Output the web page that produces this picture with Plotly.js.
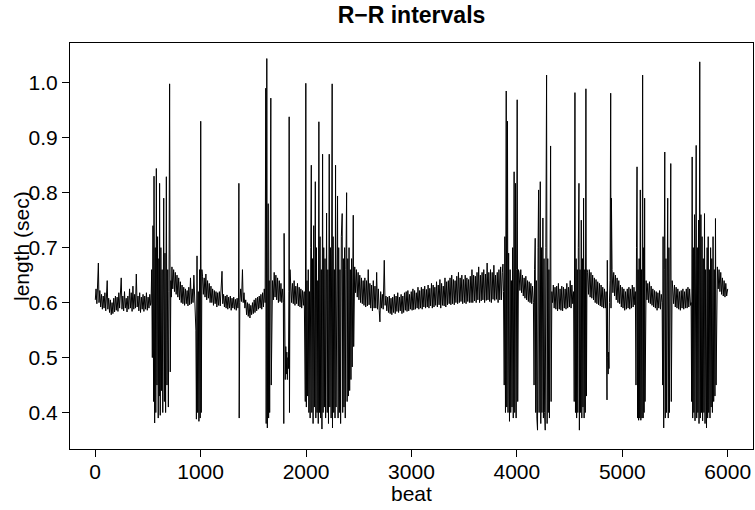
<!DOCTYPE html>
<html>
<head>
<meta charset="utf-8">
<script src="https://cdn.plot.ly/plotly-3.0.1.min.js"></script>
<style>
html,body{margin:0;padding:0;background:#fff;}
#chart{width:755px;height:510px;}
</style>
</head>
<body>
<div id="chart"></div>
<script>
// R-R interval series (envelope of the dense trace)
var beat = [
  // quiet 0-525
  1,8,16,24,30,36,44,52,60,68, 76,84,92,100,108,114,120,128,136,144, 152,160,168,176,184,192,200,208,216,224,
  232,240,247,254,262,270,278,286,294,302, 310,318,326,334,342,350,358,366,374,382, 390,398,406,414,422,430,438,446,454,462,
  470,478,486,494,502,510,518,525,
  // burst ~530-722
  530,536,542,548,554,558,564,570,575,580,586,592,598,604,608,611,617,623,629,635,641,650,656,662,668,675,681,688,694,700,706,712,718,722,
  // recovery 722-945
  728,736,744,752,760,768,776,784,792,800, 808,816,824,832,840,848,856,864,872,880, 888,896,904,912,920,928,936,942,
  // burst ~950-1010
  948,955,960,966,972,978,984,990,996,1001,1006,1012,
  // quiet 1012-1608
  1018,1026,1034,1042,1050,1058,1066,1074,1082,1090, 1098,1106,1114,1122,1130,1138,1146,1154,1162,1170,
  1178,1186,1194,1203,1210,1218,1226,1234,1242,1250, 1258,1266,1274,1282,1290,1298,1306,1314,1322,1330,
  1338,1346,1354,1360,1363,1366,1372,1380,1388,1397, 1404,1412,1420,1428,1436,1444,1452,1460,1468,1476,
  1484,1492,1500,1508,1516,1524,1532,1540,1548,1556, 1564,1572,1580,1588,1596,1604,
  // burst ~1610-1675
  1612,1618,1622,1628,1633,1638,1641,1645,1650,1655,1660,1666,1670,1675,
  // quiet
  1682,1690,1698,1706,1714,1722,1730,1738,1746,1754, 1762,1770,1778,
  // burst ~1785-1848
  1785,1789,1792,1797,1803,1808,1813,1818,1823,1828,1833,1838,1840,1843,1848,
  // quiet
  1855,1863,1871,1879,1887,1895,1903,1911,1919,1927, 1935,1943,1951,1959,1967,1975,1983,
  // burst ~1988-2456
  1988,1993,1998,2003,2009,2015,2021,2027,2033,2039, 2045,2050,2055,2061,2067,2073,2079,2084,2088,2093,
  2099,2105,2111,2116,2122,2127,2133,2139,2145,2151, 2157,2162,2168,2174,2180,2186,2191,2195,2201,2207,
  2213,2220,2226,2232,2238,2243,2248,2251,2257,2263, 2269,2275,2280,2285,2292,2299,2304,2310,2316,2322,
  2328,2335,2343,2348,2354,2360,2366,2372,2378,2385, 2390,2396,2402,2408,2414,2420,2426,2432,2438,2444,
  2448,2452,2456,
  // recovery 2456-2770
  2462,2470,2478,2486,2494,2502,2510,2518,2526,2534, 2542,2550,2558,2566,2574,2582,2590,2598,2606,2614,
  2622,2630,2638,2646,2654,2662,2670,2678,2686,2694, 2701,2708,2716,2724,2732,2742,2750,2758,2766,
  // long quiet 2770-3870
  2774,2782,2790,2798,2806,2814,2822,2830,2838,2846, 2854,2862,2870,2878,2886,2894,2902,2910,2918,2926,
  2934,2942,2950,2958,2966,2974,2982,2990,2998,3006, 3014,3022,3030,3038,3046,3054,3062,3070,3078,3086,
  3094,3102,3110,3118,3126,3134,3142,3150,3158,3166, 3174,3182,3190,3198,3206,3214,3222,3230,3238,3246,
  3254,3262,3270,3278,3286,3294,3302,3310,3318,3326, 3334,3342,3350,3358,3366,3374,3382,3390,3398,3406,
  3414,3422,3430,3438,3446,3454,3462,3470,3478,3486, 3494,3502,3510,3518,3526,3534,3542,3550,3558,3566,
  3574,3582,3590,3598,3606,3614,3622,3630,3638,3646, 3654,3662,3670,3678,3686,3694,3702,3710,3718,3726,
  3734,3742,3750,3758,3766,3774,3782,3790,3798,3806, 3814,3822,3830,3838,3846,3854,3862,3868,
  // burst ~3873-4015
  3873,3880,3886,3892,3899,3904,3911,3916,3922,3930,3936,3942,3948,3954,3960,3966,3974,3980,3987,3993,3998,4003,4008,4015,
  // recovery
  4021,4029,4037,4045,4053,4061,4069,4077,4085,4093, 4101,4109,4117,4125,4133,4141,4149,
  // burst ~4157-4332
  4157,4163,4168,4174,4179,4185,4190,4196,4201,4206,4211,4216,4222,4227,4233,4238,4243,4247,4252,4258,4263,4269,4275,4282,4287,4293,4298,4304,4309,4315,4320,4325,4332,
  // quiet
  4338,4346,4354,4362,4370,4378,4386,4394,4402,4410, 4418,4426,4434,4442,4450,4458,4466,4474,4482,4490, 4498,4506,4514,4522,4530,
  // burst ~4538-4665
  4538,4544,4551,4556,4562,4567,4573,4578,4583,4589,4593,4599,4605,4611,4616,4622,4627,4633,4638,4644,4649,4655,4660,4665,
  // recovery
  4671,4679,4687,4695,4703,4711,4719,4727,4735,4743, 4751,4759,4767,4775,4783,4791,4799,4807,4815,4823, 4831,4839,4847,
  // isolated beats ~4855-4897
  4855,4858,4862,4866,4870,4874,4878,4884,4890,4893,4897,
  // quiet
  4903,4911,4919,4927,4935,4943,4951,4959,4967,4975, 4983,4991,4999,5007,5015,5023,5031,5039,5047,5055, 5063,5071,5079,5087,5095,5103,5111,5119,
  // burst ~5124-5220
  5124,5130,5135,5140,5145,5150,5155,5160,5165,5171,5176,5182,5187,5193,5198,5203,5207,5212,5216,5220,
  // quiet
  5226,5234,5242,5250,5258,5266,5274,5282,5290,5298, 5306,5314,5322,5330,5338,5346,5354,5362,5370,
  // burst ~5378-5473
  5378,5383,5387,5393,5398,5403,5408,5414,5419,5425,5431,5436,5442,5447,5453,5460,5465,5473,
  // quiet
  5479,5487,5495,5503,5511,5519,5527,5535,5543,5551, 5559,5567,5575,5583,5591,5599,5607,5615,5623,5631, 5639,5647,
  // burst ~5653-5900
  5653,5658,5663,5668,5674,5679,5685,5690,5696,5701,5706,5712,5717,5723,5728,5735,5740,5746,5751,5757,5762,5768,5774,5780,5785,5791,5799,5805,5810,5815,5820,5826,5832,5838,5843,5849,5855,5861,5867,5873,5879,5884,5890,5896,
  // recovery to end
  5902,5910,5918,5926,5934,5942,5950,5958,5966,5974, 5982,5990,6000
];
var rr = [
  0.605,0.625,0.598,0.63,0.672,0.60,0.622,0.592,0.615,0.588, 0.612,0.59,0.618,0.585,0.61,0.64,0.588,0.608,0.582,0.605, 0.578,0.60,0.58,0.608,0.583,0.612,0.586,0.61,0.584,0.618,
  0.59,0.615,0.645,0.588,0.612,0.585,0.62,0.59,0.608,0.583, 0.612,0.588,0.625,0.59,0.618,0.584,0.63,0.588,0.615,0.59, 0.652,0.592,0.612,0.585,0.618,0.582,0.61,0.588,0.615,0.584,
  0.612,0.588,0.618,0.586,0.61,0.59,0.615,0.595,

  0.6,0.66,0.50,0.74,0.42,0.83,0.381,0.70,0.40,0.844,0.45,0.72,0.39,0.68,0.43,0.817,0.395,0.70,0.44,0.66,0.40,0.79,0.42,0.69,0.40,0.829,0.45,0.66,0.41,0.62,0.998,0.474,0.64,0.61,

  0.665,0.625,0.66,0.62,0.655,0.615,0.65,0.61,0.645,0.605, 0.638,0.60,0.632,0.598,0.628,0.595,0.625,0.598,0.622,0.594, 0.628,0.596,0.645,0.598,0.625,0.60,0.65,0.605,

  0.60,0.55,0.388,0.685,0.40,0.62,0.384,0.66,0.39,0.930,0.40,0.66,

  0.648,0.615,0.645,0.61,0.652,0.605,0.64,0.608,0.635,0.60, 0.63,0.60,0.625,0.595,0.622,0.598,0.62,0.592,0.618,0.595,
  0.62,0.594,0.618,0.657,0.598,0.615,0.592,0.612,0.59,0.614, 0.588,0.61,0.59,0.612,0.586,0.608,0.59,0.61,0.588,0.606,
  0.586,0.608,0.59,0.61,0.817,0.39,0.60,0.625,0.602,0.66, 0.60,0.618,0.59,0.605,0.578,0.60,0.575,0.598,0.572,0.595,
  0.578,0.60,0.58,0.605,0.582,0.608,0.585,0.61,0.588,0.612, 0.59,0.615,0.588,0.618,0.592,0.625,

  0.60,0.99,0.38,1.044,0.372,0.65,0.78,0.39,0.64,0.40,0.62,0.972,0.45,0.63,

  0.64,0.605,0.655,0.61,0.65,0.605,0.645,0.60,0.64,0.602, 0.635,0.60,0.625,

  0.60,0.38,0.726,0.50,0.46,0.52,0.47,0.51,0.46,0.50,0.48,0.62,0.938,0.40,0.66,

  0.64,0.60,0.635,0.598,0.64,0.595,0.63,0.598,0.635,0.594, 0.628,0.592,0.625,0.59,0.622,0.595,0.62,

  0.55,0.42,0.999,0.41,0.64,0.43,0.66,0.40,0.62,0.39, 0.70,0.85,0.40,0.68,0.38,0.74,0.41,0.66,0.82,0.39,
  0.70,0.40,0.64,0.38,0.929,0.40,0.72,0.39,0.66,0.37, 0.87,0.40,0.70,0.41,0.68,0.39,0.72,0.763,0.40,0.66,
  0.38,0.87,0.41,0.70,0.39,0.68,0.998,0.372,0.72,0.40, 0.66,0.39,0.85,0.41,0.68,0.794,0.39,0.70,0.40,0.66,
  0.38,0.72,0.762,0.40,0.68,0.41,0.70,0.39,0.66,0.80, 0.42,0.68,0.43,0.70,0.44,0.66,0.46,0.68,0.483,0.65,
  0.759,0.52,0.64,

  0.665,0.618,0.66,0.61,0.655,0.605,0.65,0.60,0.645,0.598, 0.64,0.595,0.645,0.592,0.64,0.594,0.66,0.596,0.635,0.59,
  0.632,0.585,0.64,0.59,0.63,0.59,0.655,0.588,0.625,0.586, 0.565,0.62,0.59,0.615,0.588,0.677,0.595,0.612,0.585,

  0.61,0.582,0.612,0.58,0.608,0.578,0.61,0.582,0.615,0.58, 0.612,0.584,0.618,0.582,0.61,0.585,0.615,0.58,0.612,0.582,
  0.618,0.586,0.62,0.584,0.622,0.585,0.615,0.588,0.62,0.586, 0.625,0.587,0.622,0.588,0.618,0.59,0.628,0.588,0.622,0.59,
  0.628,0.588,0.625,0.592,0.63,0.59,0.624,0.592,0.632,0.59, 0.626,0.594,0.635,0.59,0.632,0.592,0.628,0.595,0.638,0.592,
  0.632,0.596,0.642,0.59,0.635,0.595,0.63,0.594,0.645,0.592, 0.638,0.596,0.64,0.598,0.645,0.596,0.65,0.598,0.642,0.596,
  0.64,0.60,0.648,0.598,0.655,0.60,0.645,0.602,0.65,0.598, 0.642,0.60,0.65,0.598,0.645,0.602,0.642,0.60,0.648,0.60,
  0.66,0.60,0.65,0.603,0.648,0.60,0.655,0.605,0.665,0.60, 0.65,0.603,0.655,0.605,0.66,0.60,0.652,0.604,0.672,0.605,
  0.655,0.602,0.66,0.60,0.655,0.606,0.668,0.604,0.65,0.606, 0.655,0.60,0.66,0.605,0.665,0.605,0.655,0.67,

  0.62,0.45,0.72,0.40,0.985,0.41,0.93,0.40,0.69,0.384,0.66,0.40,0.64,0.41,0.70,0.39,0.838,0.40,0.817,0.39,0.66,0.969,0.42,0.66,

  0.655,0.622,0.66,0.618,0.65,0.612,0.645,0.608,0.648,0.605, 0.64,0.602,0.638,0.60,0.635,0.598,0.63,

  0.60,0.45,0.66,0.717,0.40,0.64,0.39,0.368,0.70,0.805,0.40,0.66,0.82,0.38,0.70,0.40,0.66,0.754,0.39,0.68,0.40,0.368,0.70,1.014,0.38,0.68,0.40,0.66,0.39,0.70,0.885,0.42,0.62,

  0.60,0.632,0.59,0.628,0.588,0.63,0.585,0.635,0.588,0.625, 0.586,0.63,0.585,0.628,0.59,0.625,0.588,0.635,0.59,0.628, 0.592,0.64,0.59,0.632,0.598,

  0.62,0.42,0.982,0.40,0.68,0.39,0.66,0.40,0.70,0.817,0.368,0.66,0.40,0.75,0.39,0.68,0.41,0.79,0.39,0.66,0.40,0.989,0.43,0.66,

  0.655,0.615,0.66,0.61,0.655,0.608,0.65,0.605,0.645,0.60, 0.642,0.598,0.638,0.596,0.635,0.594,0.632,0.592,0.628,0.59, 0.625,0.59,0.62,

  0.423,0.677,0.50,0.47,0.51,0.48,0.60,0.64,0.981,0.59,0.79,

  0.66,0.618,0.655,0.612,0.65,0.605,0.645,0.60,0.64,0.598, 0.632,0.592,0.628,0.59,0.625,0.586,0.62,0.588,0.625,0.59, 0.628,0.588,0.625,0.59,0.632,0.592,0.628,0.596,

  0.62,0.45,0.70,0.847,0.39,0.66,0.386,0.68,0.39,0.805,0.386,0.66,0.39,1.014,0.39,0.70,0.40,0.79,0.42,0.64,

  0.64,0.605,0.635,0.60,0.638,0.598,0.63,0.595,0.625,0.592, 0.622,0.59,0.62,0.586,0.618,0.59,0.622,0.588,0.615,

  0.60,0.45,0.72,0.372,0.66,0.874,0.39,0.68,0.40,0.66,0.79,0.39,0.70,0.40,0.66,0.853,0.42,0.64,

  0.625,0.598,0.632,0.592,0.628,0.59,0.625,0.588,0.62,0.586, 0.622,0.59,0.625,0.588,0.62,0.59,0.625,0.59,0.628,0.592, 0.625,0.595,

  0.60,0.42,0.865,0.39,0.70,0.40,0.76,0.385,0.68,0.886,0.39,0.70,0.40,0.75,0.38,1.038,0.39,0.76,0.40,0.72,0.385,0.68,0.40,0.762,0.38,0.66,0.372,0.70,0.39,0.72,0.40,0.66,0.39,0.70,0.41,0.68,0.40,0.72,0.42,0.66,0.43,0.753,0.45,0.66,

  0.665,0.625,0.66,0.62,0.655,0.615,0.645,0.612,0.64,0.61, 0.635,0.612,0.625
];
var xTicks = [0, 1000, 2000, 3000, 4000, 5000, 6000];
var yTicks = [0.4, 0.5, 0.6, 0.7, 0.8, 0.9, 1.0];
var yTickText = ["0.4", "0.5", "0.6", "0.7", "0.8", "0.9", "1.0"];

if (beat.length !== rr.length) { throw new Error("length mismatch " + beat.length + " vs " + rr.length); }

var FONT = "Liberation Sans, Arial, Helvetica, sans-serif";

var trace = {
  x: beat, y: rr, type: "scatter", mode: "lines",
  line: {color: "#000000", width: 1},
  hoverinfo: "skip"
};

var layout = {
  width: 755, height: 510,
  paper_bgcolor: "#ffffff", plot_bgcolor: "#ffffff",
  margin: {l: 70, r: 2, t: 43, b: 61, pad: 0},
  showlegend: false,
  font: {family: FONT, size: 21, color: "#000000"},
  title: {
    text: "<b>R\u2212R intervals</b>",
    font: {family: FONT, size: 23, color: "#000000"},
    x: 0.5, xref: "paper", xanchor: "center",
    y: 1 - 15/510, yref: "container", yanchor: "middle"
  },
  xaxis: {
    range: [-239, 6240], tickmode: "array", tickvals: xTicks,
    ticks: "outside", ticklen: 7, tickwidth: 1, tickcolor: "#000",
    ticklabelstandoff: -3,
    showline: true, mirror: true, linecolor: "#000", linewidth: 1,
    showgrid: false, zeroline: false,
    tickfont: {family: FONT, size: 21, color: "#000"}
  },
  yaxis: {
    range: [0.3337, 1.0723], tickmode: "array", tickvals: yTicks, ticktext: yTickText,
    ticks: "outside", ticklen: 7, tickwidth: 1, tickcolor: "#000",
    showline: true, mirror: true, linecolor: "#000", linewidth: 1,
    showgrid: false, zeroline: false,
    tickfont: {family: FONT, size: 21, color: "#000"}
  },
  annotations: [{
    text: "length (sec)", textangle: -90,
    xref: "paper", yref: "paper", x: (21 - 70) / 683, y: 0.5,
    xanchor: "center", yanchor: "middle", showarrow: false,
    font: {family: FONT, size: 21, color: "#000"}
  }, {
    text: "beat",
    xref: "paper", yref: "paper", x: 0.5, y: 0, yshift: -44,
    xanchor: "center", yanchor: "middle", showarrow: false,
    font: {family: FONT, size: 21, color: "#000"}
  }]
};

Plotly.newPlot("chart", [trace], layout, {displayModeBar: false, staticPlot: true});
</script>
</body>
</html>
